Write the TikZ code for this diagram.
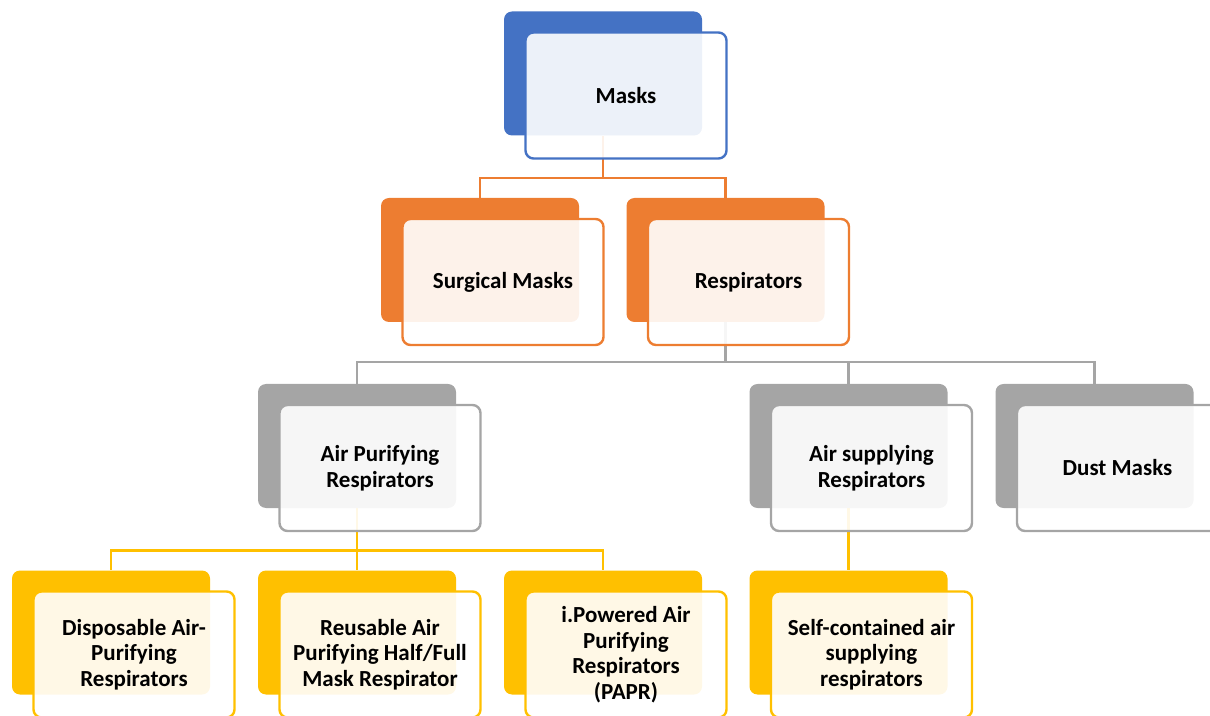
\documentclass[tikz,border=0pt]{standalone}
\usepackage{fontspec}
\setmainfont{Carlito}
\definecolor{maskBlue}{HTML}{4472C4}
\definecolor{maskOrange}{HTML}{ED7D31}
\definecolor{maskGray}{HTML}{A5A5A5}
\definecolor{maskGold}{HTML}{FFC000}
\tikzset{
  boxnode/.style = {align=center, inner sep=0pt, text centered, font=\fontsize{11.5}{12.75}\selectfont\bfseries},
  % back box: solid colour block
  box_back/.style = {boxnode, rectangle, rounded corners=4pt, fill=#1, minimum width=99pt, minimum height=62pt},
  % front box: white glass with coloured rim
  box_front/.style = {boxnode, rectangle, rounded corners=4pt, draw=#1, line width=1.2pt, fill=white, fill opacity=0.9, text opacity=1, minimum width=100.5pt, minimum height=63pt},
  link/.style = {draw=#1, line width=1.1pt}
}

\begin{document}
\begin{tikzpicture}[x=0.5pt,y=-0.5pt]
    \useasboundingbox (0,0) rectangle (1210,716);
    % Back blocks:
    \node [box_back=maskBlue] (masksB) at (603,73.5) {};
    \node [box_back=maskOrange] (surgB) at (480,260) {};
    \node [box_back=maskOrange] (respB) at (725.5,260) {};
    \node [box_back=maskGray] (apurB) at (357,446) {};
    \node [box_back=maskGray] (asupB) at (848.5,446) {};
    \node [box_back=maskGray] (dustB) at (1094.5,446) {};
    \node [box_back=maskGold] (dispB) at (111,632.5) {};
    \node [box_back=maskGold] (reusB) at (357,632.5) {};
    \node [box_back=maskGold] (paprB) at (603,632.5) {};
    \node [box_back=maskGold] (selfB) at (848.5,632.5) {};
    % Connectors:
    \draw [link=maskOrange] (masksB.south) -- ++(0,-21pt) -| (surgB.north);
    \draw [link=maskOrange] (masksB.south) -- ++(0,-21pt) -| (respB.north);
    \draw [link=maskGray] (respB.south) -- ++(0,-20pt) -| (apurB.north);
    \draw [link=maskGray] (respB.south) -- ++(0,-20pt) -| (asupB.north);
    \draw [link=maskGray] (respB.south) -- ++(0,-20pt) -| (dustB.north);
    \draw [link=maskGold] (apurB.south) -- ++(0,-21pt) -| (dispB.north);
    \draw [link=maskGold] (apurB.south) -- ++(0,-21pt) -| (reusB.north);
    \draw [link=maskGold] (apurB.south) -- ++(0,-21pt) -| (paprB.north);
    \draw [link=maskGold] (asupB.south) -- (selfB.north);
    % Front boxes with text:
    \node [box_front=maskBlue][xshift=11.5pt, yshift=-11pt] (masksF) at (masksB) {Masks};
    \node [box_front=maskOrange][xshift=11.5pt, yshift=-11pt] (surgF) at (surgB) {Surgical Masks};
    \node [box_front=maskOrange][xshift=11.5pt, yshift=-11pt] (respF) at (respB) {Respirators};
    \node [box_front=maskGray][xshift=11.5pt, yshift=-11pt] (apurF) at (apurB) {Air Purifying\\Respirators};
    \node [box_front=maskGray][xshift=11.5pt, yshift=-11pt] (asupF) at (asupB) {Air supplying\\Respirators};
    \node [box_front=maskGray][xshift=11.5pt, yshift=-11pt] (dustF) at (dustB) {Dust Masks};
    \node [box_front=maskGold][xshift=11.5pt, yshift=-11pt] (dispF) at (dispB) {Disposable Air-\\Purifying\\Respirators};
    \node [box_front=maskGold][xshift=11.5pt, yshift=-11pt] (reusF) at (reusB) {Reusable Air\\Purifying Half/Full\\Mask Respirator};
    \node [box_front=maskGold][xshift=11.5pt, yshift=-11pt] (paprF) at (paprB) {i.Powered Air\\Purifying\\Respirators\\(PAPR)};
    \node [box_front=maskGold][xshift=11.5pt, yshift=-11pt] (selfF) at (selfB) {Self-contained air\\supplying\\respirators};
\end{tikzpicture}
\end{document}
